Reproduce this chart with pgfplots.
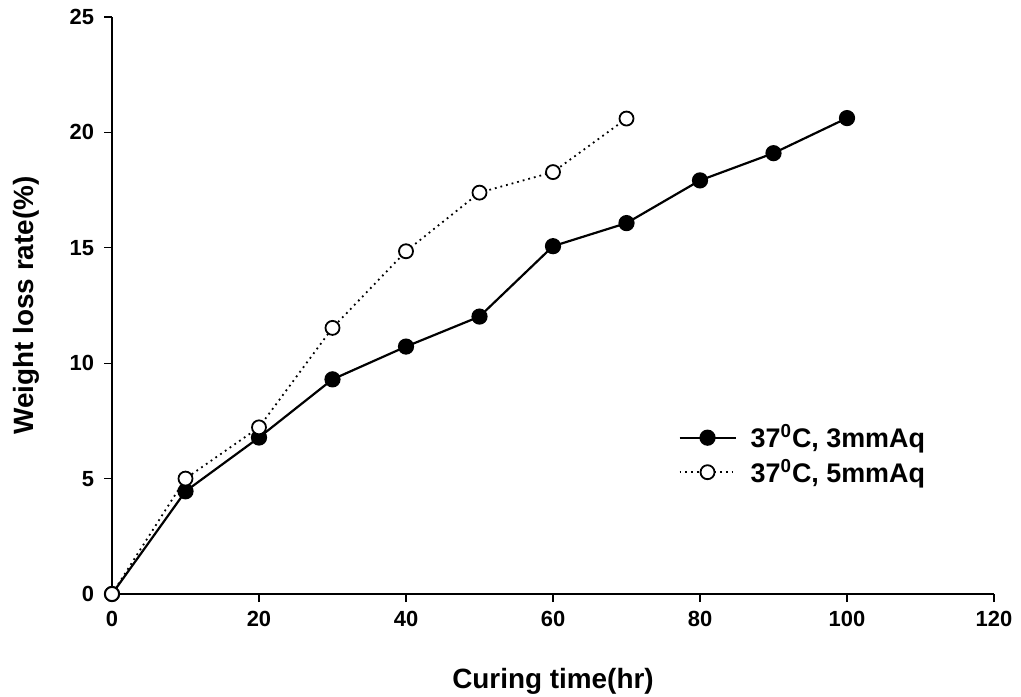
\documentclass[border=0pt]{standalone}
\usepackage{pgfplots}
\pgfplotsset{compat=1.18}
\usepackage{fontspec}
\setmainfont{Liberation Sans}
\begin{document}
\begin{tikzpicture}
\begin{axis}[
  scale only axis,
  width=441bp, height=288.5bp,
  xmin=0, xmax=120, ymin=0, ymax=25,
  xtick={0,20,...,120}, ytick={0,5,...,25},
  axis lines=left,
  axis line style={-, line width=0.8pt},
  clip=false,
  tick align=outside,
  major tick length=4bp,
  tick style={line width=0.6pt, black},
  /pgf/number format/assume math mode=true,
  ticklabel style={font=\bfseries\fontsize{11}{12}\selectfont},
  yticklabel style={xshift=-1.5bp},
  xticklabel style={yshift=-1bp},
  xlabel={Curing time(hr)},
  ylabel={Weight loss rate(\%)},
  label style={font=\bfseries\fontsize{14}{16}\selectfont},
  xlabel style={yshift=-14bp},
  ylabel style={yshift=8bp},
  legend style={at={(0.635,0.241)}, anchor=west, draw=none, fill=none,
    font=\bfseries\fontsize{13.5}{15}\selectfont, row sep=0bp,
    legend cell align=left,
    /tikz/every odd column/.append style={column sep=5bp}},
  legend image code/.code={%
    \draw[mark repeat=2,mark phase=2,#1] plot coordinates {(0bp,0bp)(14bp,0bp)(28bp,0bp)};},
]
\addplot[black, line width=1.1pt, mark=*, mark size=3.5bp, mark options={solid, fill=black}]
  coordinates {(0,0)(10,4.45)(20,6.78)(30,9.3)(40,10.72)(50,12.02)(60,15.07)(70,16.07)(80,17.92)(90,19.1)(100,20.62)};
\addlegendentry{37\textsuperscript{0}C, 3mmAq}
\addplot[black, line width=0.9pt, dotted, mark=*, mark size=3.5bp, mark options={solid, fill=white, line width=0.9pt}]
  coordinates {(0,0)(10,5.0)(20,7.22)(30,11.53)(40,14.85)(50,17.39)(60,18.28)(70,20.6)};
\addlegendentry{37\textsuperscript{0}C, 5mmAq}
\end{axis}
\pgfresetboundingbox
\path (-56bp,-51.5bp) rectangle (454.5bp,297bp);
\end{tikzpicture}
\end{document}
